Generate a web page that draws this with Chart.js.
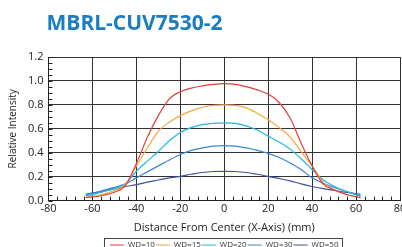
<!DOCTYPE html>
<html>
<head>
<meta charset="utf-8">
<script src="https://cdn.jsdelivr.net/npm/chart.js@4/dist/chart.umd.min.js"></script>
<style>
  html, body { margin: 0; padding: 0; background: #fff; overflow: hidden; width: 402px; height: 247px; }
  #wrap { position: absolute; left: 0; top: 0; width: 420px; height: 262px; }
</style>
</head>
<body>
<div id="wrap"><canvas id="chart"></canvas></div>
<script>
  'use strict';

  var chartTitle = 'MBRL-CUV7530-2';

  // positions mesurées le long de l'axe X (mm)
  var xPositions = [-63, -60, -55, -50, -45, -40, -35, -30, -25, -20, -15, -10, -5, 0, 5, 10, 15, 20, 25, 30, 35, 40, 45, 50, 55, 62];

  var wd10 = [0.025, 0.03, 0.045, 0.07, 0.125, 0.31, 0.53, 0.71, 0.85, 0.91, 0.94, 0.958, 0.972, 0.978, 0.972, 0.952, 0.925, 0.89, 0.82, 0.69, 0.48, 0.29, 0.14, 0.09, 0.055, 0.025];
  var wd15 = [0.03, 0.035, 0.055, 0.085, 0.135, 0.29, 0.44, 0.58, 0.655, 0.71, 0.75, 0.78, 0.795, 0.80, 0.795, 0.775, 0.73, 0.675, 0.61, 0.53, 0.41, 0.29, 0.155, 0.09, 0.055, 0.025];
  var wd20 = [0.04, 0.05, 0.075, 0.1, 0.14, 0.245, 0.33, 0.41, 0.50, 0.57, 0.61, 0.635, 0.645, 0.65, 0.645, 0.625, 0.59, 0.54, 0.49, 0.43, 0.35, 0.26, 0.175, 0.12, 0.08, 0.035];
  var wd30 = [0.05, 0.06, 0.085, 0.11, 0.14, 0.19, 0.24, 0.29, 0.34, 0.385, 0.42, 0.44, 0.455, 0.46, 0.455, 0.44, 0.42, 0.395, 0.36, 0.315, 0.26, 0.19, 0.145, 0.11, 0.08, 0.042];
  var wd50 = [0.055, 0.062, 0.08, 0.1, 0.118, 0.133, 0.155, 0.172, 0.19, 0.203, 0.22, 0.235, 0.243, 0.245, 0.243, 0.235, 0.22, 0.203, 0.185, 0.165, 0.14, 0.118, 0.1, 0.085, 0.07, 0.053];

  var seriesLabels = ['WD=10', 'WD=15', 'WD=20', 'WD=30', 'WD=50'];
  var seriesValues = [wd10, wd15, wd20, wd30, wd50];
  var seriesColors = ['#e0403a', '#f5a73a', '#1cb9e6', '#3b86d6', '#3e51a6'];

  var fontFamily = '"Open Sans", "Noto Sans", sans-serif';

  function toPoints(values) {
    return values.map(function (v, i) { return { x: xPositions[i], y: v }; });
  }

  // titre bleu en haut à gauche, aligné sur la zone de tracé
  var headTitle = {
    id: 'headTitle',
    afterDraw: function (chart) {
      var ctx = chart.ctx;
      ctx.save();
      ctx.fillStyle = '#1a7cc3';
      ctx.font = 'bold 21px ' + fontFamily;
      ctx.textBaseline = 'alphabetic';
      ctx.textAlign = 'left';
      ctx.fillText(chartTitle, chart.chartArea.left - 2, 30);
      ctx.restore();
    }
  };

  // petites graduations intérieures sur les axes gauche et bas
  var minorTicks = {
    id: 'minorTicks',
    afterDraw: function (chart) {
      var ctx = chart.ctx;
      var xs = chart.scales.x;
      var ys = chart.scales.y;
      var area = chart.chartArea;
      ctx.save();
      ctx.strokeStyle = '#222';
      ctx.lineWidth = 1;
      ctx.beginPath();
      for (var x = -80; x <= 80; x += 4) {
        var px = Math.round(xs.getPixelForValue(x)) + 0.5;
        ctx.moveTo(px, area.bottom);
        ctx.lineTo(px, area.bottom - 4);
      }
      for (var k = 0; k <= 24; k++) {
        var py = Math.round(ys.getPixelForValue(k * 0.05)) + 0.5;
        ctx.moveTo(area.left, py);
        ctx.lineTo(area.left + 4, py);
      }
      ctx.stroke();
      ctx.restore();
    }
  };

  // cadre autour de la légende
  var legendFrame = {
    id: 'legendFrame',
    afterDraw: function (chart) {
      var boxes = chart.legend && chart.legend.legendHitBoxes;
      if (!boxes || !boxes.length) return;
      var left = Math.min.apply(null, boxes.map(function (b) { return b.left; }));
      var right = Math.max.apply(null, boxes.map(function (b) { return b.left + b.width; }));
      var top = boxes[0].top;
      var ctx = chart.ctx;
      ctx.save();
      ctx.strokeStyle = '#444';
      ctx.lineWidth = 1;
      ctx.strokeRect(Math.round(left - 6) + 0.5, Math.round(top - 3) + 0.5, Math.round(right - left + 9), 20);
      ctx.restore();
    }
  };

  new Chart(document.getElementById('chart'), {
    type: 'line',
    data: {
      datasets: seriesLabels.map(function (label, i) {
        return {
          label: label,
          data: toPoints(seriesValues[i]),
          borderColor: seriesColors[i],
          backgroundColor: seriesColors[i],
          borderWidth: 1.2,
          pointRadius: 0,
          fill: false,
          cubicInterpolationMode: 'monotone'
        };
      })
    },
    options: {
      responsive: true,
      maintainAspectRatio: false,
      animation: false,
      layout: { padding: { top: 57, right: 20, left: 7, bottom: 3 } },
      plugins: {
        title: { display: false },
        tooltip: { enabled: false },
        legend: {
          position: 'bottom',
          fullSize: false,
          labels: {
            usePointStyle: true,
            pointStyle: 'line',
            pointStyleWidth: 14,
            boxHeight: 7,
            padding: 1,
            color: '#333',
            font: { family: fontFamily, size: 8 }
          }
        }
      },
      scales: {
        x: {
          type: 'linear',
          min: -80,
          max: 80,
          ticks: { stepSize: 20, color: '#222', padding: 2, font: { family: fontFamily, size: 11 } },
          grid: { color: '#333', lineWidth: 1, drawTicks: false },
          border: { color: '#222', width: 1 },
          title: {
            display: true,
            text: 'Distance From Center (X-Axis) (mm)',
            color: '#222',
            padding: { top: 3, bottom: 6 },
            font: { family: fontFamily, size: 11 }
          }
        },
        y: {
          min: 0,
          max: 1.2,
          ticks: {
            stepSize: 0.2,
            color: '#222',
            padding: 5,
            font: { family: fontFamily, size: 11 },
            callback: function (v) { return v.toFixed(1); }
          },
          grid: { color: '#333', lineWidth: 1, drawTicks: false },
          border: { color: '#222', width: 1 },
          title: {
            display: true,
            text: 'Relative Intensity',
            color: '#222',
            padding: { top: 0, bottom: 4 },
            font: { family: fontFamily, size: 10 }
          }
        }
      }
    },
    plugins: [headTitle, minorTicks, legendFrame]
  });
</script>
</body>
</html>
